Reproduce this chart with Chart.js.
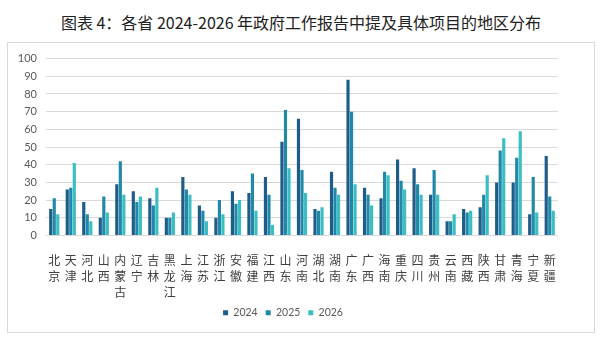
<!DOCTYPE html>
<html>
<head>
<meta charset="utf-8">
<script src="https://cdn.jsdelivr.net/npm/chart.js@4.4.1/dist/chart.umd.min.js"></script>
<style>
    body { margin: 0; background: #fff; width: 602px; height: 338px; position: relative; overflow: hidden; }
    #title { position: absolute; left: 0; top: 10px; width: 602px; text-align: center; font-family: "Noto Sans CJK SC", sans-serif; font-size: 16px; line-height: 24px; color: #222; }
    #box { position: absolute; left: 7px; top: 42px; width: 586px; height: 289px; border: 1px solid #d9d9d9; }
</style>
</head>
<body>
<div id="title">图表 4：各省 2024-2026 年政府工作报告中提及具体项目的地区分布</div>
<div id="box"><canvas id="regionChart"></canvas></div>
<script>
const provinces = ['北京', '天津', '河北', '山西', '内蒙古', '辽宁', '吉林', '黑龙江', '上海', '江苏', '浙江', '安徽', '福建', '江西', '山东', '河南', '湖北', '湖南', '广东', '广西', '海南', '重庆', '四川', '贵州', '云南', '西藏', '陕西', '甘肃', '青海', '宁夏', '新疆'];
const values2024 = [15, 26, 19, 10, 29, 25, 21, 10, 33, 17, 10, 25, 24, 33, 53, 66, 15, 36, 88, 27, 21, 43, 38, 23, 8, 15, 16, 30, 30, 12, 45];
const values2025 = [21, 27, 12, 22, 42, 19, 17, 10, 26, 14, 20, 18, 35, 23, 71, 37, 14, 27, 70, 23, 36, 31, 29, 37, 8, 13, 23, 48, 44, 33, 22];
const values2026 = [12, 41, 8, 13, 23, 22, 27, 13, 23, 8, 12, 20, 14, 6, 38, 24, 16, 23, 29, 17, 34, 26, 23, 23, 12, 14, 34, 55, 59, 13, 14];
const yTicks = [0, 10, 20, 30, 40, 50, 60, 70, 80, 90, 100];

// vertical labels: one character per line
const labels = provinces.map(p => p.split(''));

// pull the legend up a bit closer to the axis labels
const legendNudge = {
    id: 'legendNudge',
    afterLayout: function (chart) {
        chart.legend.top -= 4;
        chart.legend.bottom -= 4;
    }
};

const ctx = document.getElementById('regionChart').getContext('2d');
new Chart(ctx, {
    type: 'bar',
    data: {
        labels: labels,
        datasets: [
            { label: '2024', data: values2024, backgroundColor: 'rgb(30, 92, 138)' },
            { label: '2025', data: values2025, backgroundColor: 'rgb(33, 137, 168)' },
            { label: '2026', data: values2026, backgroundColor: 'rgb(58, 190, 196)' }
        ]
    },
    options: {
        responsive: true,
        maintainAspectRatio: false,
        animation: false,
        layout: { padding: { top: 3, right: 36, bottom: 0, left: 0 } },
        datasets: {
            bar: { categoryPercentage: 0.64, barPercentage: 0.9 }
        },
        scales: {
            x: {
                afterFit: function (scale) {
                    scale.height = 68;
                },
                grid: { display: false, drawTicks: false },
                border: { display: false },
                ticks: {
                    autoSkip: false,
                    maxRotation: 0,
                    color: '#404040',
                    font: { family: '"Noto Sans CJK SC"', size: 12, lineHeight: 1.33 },
                    padding: 17
                }
            },
            y: {
                min: 0,
                max: 100,
                afterBuildTicks: function (scale) {
                    scale.ticks = yTicks.map(v => ({ value: v }));
                },
                afterFit: function (scale) {
                    scale.width = 38;
                },
                grid: { color: '#d9d9d9', drawTicks: false },
                border: { display: false },
                ticks: {
                    autoSkip: false,
                    color: '#595959',
                    font: { family: 'Lato', size: 11 },
                    padding: 9
                }
            }
        },
        plugins: {
            legend: {
                position: 'bottom',
                labels: {
                    boxWidth: 5,
                    boxHeight: 5,
                    padding: 8,
                    color: '#595959',
                    font: { family: 'Lato', size: 10.5 }
                }
            },
            tooltip: { enabled: false }
        }
    },
    plugins: [legendNudge]
});
</script>
</body>
</html>
